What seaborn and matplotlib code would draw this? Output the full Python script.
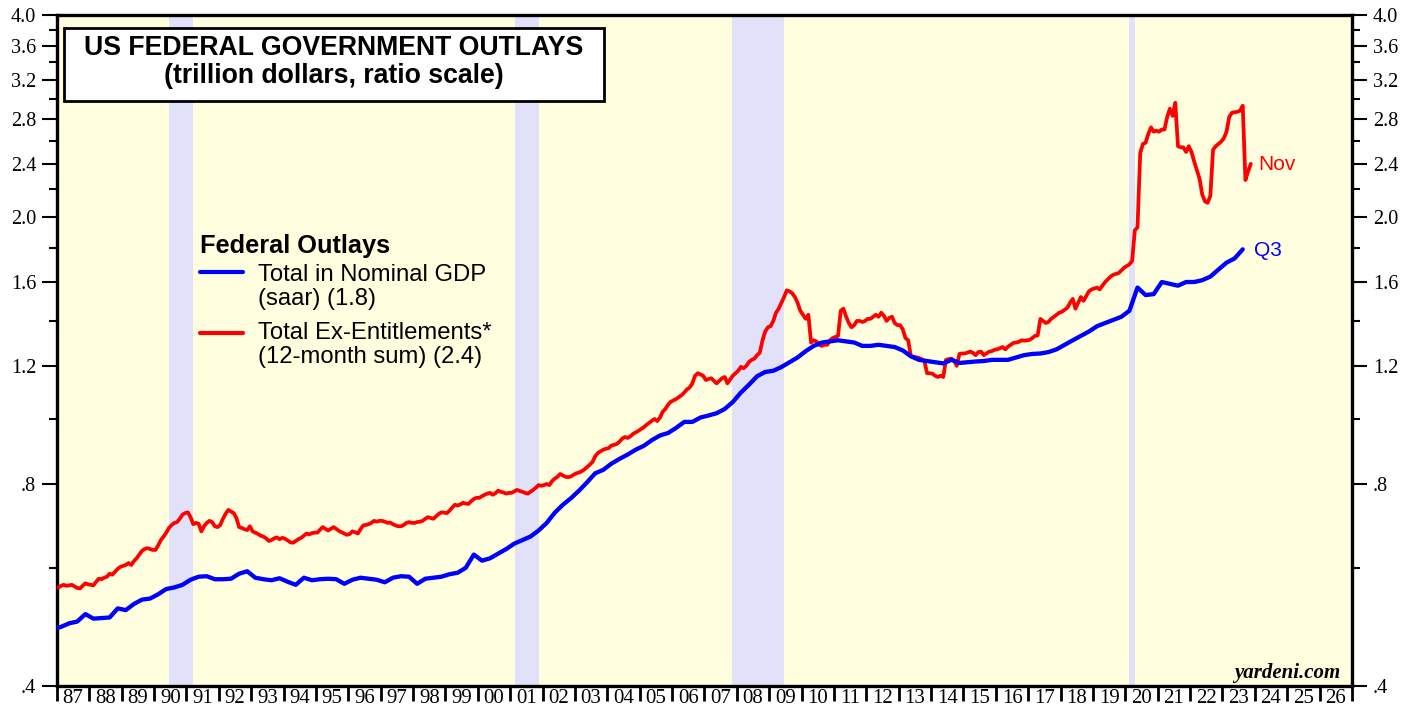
import matplotlib
matplotlib.use("Agg")
import matplotlib.pyplot as plt
import seaborn as sns
import numpy as np
import pandas as pd
from matplotlib.ticker import FixedLocator, FixedFormatter, NullFormatter
from matplotlib.patches import Rectangle
from matplotlib.lines import Line2D

# ---------------- data ----------------
# Total federal outlays in nominal GDP (saar, trillion $), quarterly 1986Q4 .. 2023Q3
blue_first_quarter = 1986.75
blue_values = [
    0.486,
    0.490, 0.496, 0.499, 0.512,   # 1987
    0.504, 0.505, 0.506, 0.522,   # 1988
    0.519, 0.530, 0.538, 0.540,   # 1989
    0.548, 0.558, 0.561, 0.566,   # 1990
    0.576, 0.582, 0.583, 0.577,   # 1991
    0.577, 0.578, 0.588, 0.593,   # 1992
    0.580, 0.577, 0.575, 0.579,   # 1993
    0.572, 0.566, 0.580, 0.575,   # 1994
    0.577, 0.578, 0.577, 0.568,   # 1995
    0.576, 0.580, 0.578, 0.576,   # 1996
    0.571, 0.580, 0.583, 0.582,   # 1997
    0.568, 0.578, 0.580, 0.582,   # 1998
    0.587, 0.590, 0.600, 0.628,   # 1999
    0.615, 0.620, 0.630, 0.640,   # 2000
    0.652, 0.660, 0.668, 0.682,   # 2001
    0.700, 0.725, 0.745, 0.762,   # 2002
    0.782, 0.805, 0.830, 0.840,   # 2003
    0.858, 0.872, 0.885, 0.900,   # 2004
    0.912, 0.930, 0.945, 0.953,   # 2005
    0.970, 0.990, 0.990, 1.005,   # 2006
    1.012, 1.020, 1.035, 1.060,   # 2007
    1.095, 1.125, 1.158, 1.175,   # 2008
    1.180, 1.195, 1.215, 1.235,   # 2009
    1.262, 1.285, 1.300, 1.305,   # 2010
    1.310, 1.305, 1.300, 1.285,   # 2011
    1.285, 1.290, 1.285, 1.280,   # 2012
    1.265, 1.240, 1.225, 1.220,   # 2013
    1.215, 1.210, 1.225, 1.212,   # 2014
    1.215, 1.218, 1.220, 1.225,   # 2015
    1.225, 1.225, 1.235, 1.245,   # 2016
    1.250, 1.252, 1.258, 1.270,   # 2017
    1.290, 1.310, 1.330, 1.350,   # 2018
    1.375, 1.390, 1.405, 1.420,   # 2019
    1.450, 1.570, 1.530, 1.535,   # 2020
    1.600, 1.590, 1.580, 1.600,   # 2021
    1.600, 1.610, 1.630, 1.670,   # 2022
    1.710, 1.735, 1.790,          # 2023
]

# Total outlays ex-entitlements (12-month sum, trillion $), monthly Jan 1987 .. Nov 2023
red_first_month = 1987.0
red_values = [
    0.561, 0.564, 0.566, 0.564, 0.565, 0.566, 0.563, 0.560, 0.559, 0.564, 0.569, 0.567,  # 1987
    0.566, 0.565, 0.572, 0.578, 0.577, 0.580, 0.582, 0.588, 0.586, 0.592, 0.598, 0.602,  # 1988
    0.604, 0.606, 0.610, 0.606, 0.614, 0.620, 0.628, 0.636, 0.640, 0.642, 0.640, 0.638,  # 1989
    0.638, 0.648, 0.660, 0.668, 0.677, 0.688, 0.695, 0.700, 0.702, 0.710, 0.720, 0.724,  # 1990
    0.726, 0.714, 0.697, 0.700, 0.698, 0.680, 0.692, 0.700, 0.705, 0.702, 0.692, 0.690,  # 1991
    0.695, 0.710, 0.722, 0.732, 0.728, 0.724, 0.712, 0.690, 0.688, 0.685, 0.683, 0.692,  # 1992
    0.680, 0.677, 0.674, 0.670, 0.668, 0.664, 0.658, 0.660, 0.664, 0.666, 0.662, 0.665,  # 1993
    0.663, 0.659, 0.655, 0.654, 0.658, 0.662, 0.665, 0.670, 0.675, 0.673, 0.676, 0.677,  # 1994
    0.677, 0.684, 0.690, 0.686, 0.682, 0.686, 0.690, 0.686, 0.681, 0.678, 0.675, 0.672,  # 1995
    0.674, 0.680, 0.678, 0.675, 0.685, 0.694, 0.695, 0.697, 0.700, 0.705, 0.703, 0.705,  # 1996
    0.705, 0.703, 0.700, 0.701, 0.697, 0.694, 0.692, 0.692, 0.695, 0.700, 0.702, 0.700,  # 1997
    0.700, 0.702, 0.703, 0.705, 0.710, 0.714, 0.712, 0.710, 0.716, 0.722, 0.726, 0.725,  # 1998
    0.724, 0.730, 0.738, 0.745, 0.743, 0.746, 0.750, 0.748, 0.747, 0.754, 0.760, 0.763,  # 1999
    0.763, 0.767, 0.771, 0.774, 0.776, 0.771, 0.775, 0.782, 0.779, 0.777, 0.774, 0.776,  # 2000
    0.776, 0.780, 0.784, 0.781, 0.779, 0.776, 0.774, 0.779, 0.784, 0.790, 0.797, 0.795,  # 2001
    0.797, 0.800, 0.797, 0.808, 0.815, 0.820, 0.828, 0.824, 0.820, 0.819, 0.821, 0.826,  # 2002
    0.830, 0.832, 0.836, 0.841, 0.848, 0.855, 0.863, 0.880, 0.890, 0.895, 0.900, 0.903,  # 2003
    0.905, 0.913, 0.915, 0.918, 0.925, 0.935, 0.940, 0.937, 0.942, 0.950, 0.955, 0.960,  # 2004
    0.966, 0.972, 0.980, 0.987, 0.994, 1.000, 0.993, 1.005, 1.025, 1.035, 1.050, 1.061,  # 2005
    1.066, 1.071, 1.078, 1.085, 1.095, 1.107, 1.114, 1.130, 1.160, 1.170, 1.165, 1.160,  # 2006
    1.143, 1.147, 1.150, 1.140, 1.130, 1.140, 1.150, 1.155, 1.130, 1.145, 1.160, 1.170,  # 2007
    1.180, 1.196, 1.190, 1.200, 1.216, 1.225, 1.230, 1.245, 1.255, 1.310, 1.350, 1.370,  # 2008
    1.375, 1.400, 1.440, 1.460, 1.490, 1.520, 1.555, 1.550, 1.540, 1.520, 1.490, 1.450,  # 2009
    1.430, 1.410, 1.430, 1.300, 1.310, 1.305, 1.290, 1.285, 1.290, 1.290, 1.310, 1.320,  # 2010
    1.325, 1.330, 1.450, 1.460, 1.420, 1.390, 1.370, 1.380, 1.400, 1.400, 1.395, 1.400,  # 2011
    1.410, 1.410, 1.420, 1.430, 1.420, 1.440, 1.425, 1.400, 1.415, 1.420, 1.390, 1.380,  # 2012
    1.380, 1.360, 1.320, 1.310, 1.240, 1.238, 1.236, 1.233, 1.228, 1.220, 1.170, 1.170,  # 2013
    1.168, 1.160, 1.155, 1.160, 1.155, 1.225, 1.228, 1.230, 1.222, 1.200, 1.250, 1.252,  # 2014
    1.252, 1.256, 1.260, 1.255, 1.245, 1.258, 1.260, 1.245, 1.252, 1.260, 1.262, 1.268,  # 2015
    1.270, 1.275, 1.280, 1.270, 1.282, 1.290, 1.298, 1.300, 1.303, 1.310, 1.308, 1.310,  # 2016
    1.312, 1.320, 1.330, 1.332, 1.410, 1.400, 1.390, 1.395, 1.410, 1.420, 1.430, 1.440,  # 2017
    1.445, 1.455, 1.465, 1.490, 1.510, 1.460, 1.490, 1.520, 1.500, 1.525, 1.550, 1.560,  # 2018
    1.565, 1.570, 1.560, 1.580, 1.600, 1.615, 1.630, 1.640, 1.645, 1.650, 1.665, 1.680,  # 2019
    1.690, 1.700, 1.720, 1.910, 1.930, 2.490, 2.570, 2.580, 2.660, 2.720, 2.680, 2.690,  # 2020
    2.680, 2.700, 2.700, 2.820, 2.900, 2.830, 2.960, 2.550, 2.540, 2.540, 2.500, 2.550,  # 2021
    2.500, 2.420, 2.350, 2.280, 2.160, 2.110, 2.100, 2.150, 2.520, 2.550, 2.570, 2.590,  # 2022
    2.620, 2.680, 2.820, 2.860, 2.865, 2.870, 2.880, 2.930, 2.270, 2.340, 2.400,         # 2023
]

recessions = [(1990.46, 1991.20), (2001.14, 2001.88), (2007.86, 2009.47), (2020.12, 2020.30)]

y_major = [0.4, 0.8, 1.2, 1.6, 2.0, 2.4, 2.8, 3.2, 3.6, 4.0]
y_major_labels = [".4", ".8", "1.2", "1.6", "2.0", "2.4", "2.8", "3.2", "3.6", "4.0"]
y_minor = [0.6, 1.0, 1.4, 1.8, 2.2, 2.6, 3.0, 3.4, 3.8]
years = list(range(1987, 2027))
year_labels = [f"{y % 100:02d}" for y in years]

title_lines = ["US FEDERAL GOVERNMENT OUTLAYS", "(trillion dollars, ratio scale)"]
legend_title = "Federal Outlays"
blue_label = ["Total in Nominal GDP", "(saar) (1.8)"]
red_label = ["Total Ex-Entitlements*", "(12-month sum) (2.4)"]

BLUE = "#0000ff"
RED = "#ff0000"
BG = "#ffffe0"
BAND = "#e1e1fa"

# ---------------- frames ----------------
blue_df = pd.DataFrame({
    "date": [blue_first_quarter + i * 0.25 + 0.125 for i in range(len(blue_values))],
    "value": blue_values,
})
red_df = pd.DataFrame({
    "date": [red_first_month + (m + 0.5) / 12 for m in range(len(red_values))],
    "value": red_values,
})

# ---------------- figure ----------------
sns.set_style("white")
plt.rcParams["font.family"] = ["Liberation Sans", "DejaVu Sans"]
plt.rcParams["text.color"] = "black"
plt.rcParams["xtick.color"] = "black"
plt.rcParams["ytick.color"] = "black"
plt.rcParams["axes.labelcolor"] = "black"

W, H = 1417, 719
fig = plt.figure(figsize=(W / 100, H / 100), dpi=100)
L, R, T, B = 57, 1352, 15, 686
ax = fig.add_axes([L / W, 1 - B / H, (R - L) / W, (B - T) / H])
ax.set_facecolor(BG)

for a, b in recessions:
    ax.axvspan(a, b, color=BAND, lw=0, zorder=0.5)

sns.lineplot(data=red_df, x="date", y="value", color=RED, lw=2.7, ax=ax,
             legend=False, zorder=3)
sns.lineplot(data=blue_df, x="date", y="value", color=BLUE, lw=3.1, ax=ax,
             legend=False, zorder=4)

ax.set_yscale("log")
ax.set_ylim(0.4, 4.0)
ax.set_xlim(1987, 2027)
ax.set_xlabel("")
ax.set_ylabel("")

serif = ["Liberation Serif", "DejaVu Serif"]
ax.yaxis.set_major_locator(FixedLocator(y_major))
ax.yaxis.set_major_formatter(FixedFormatter(y_major_labels))
ax.yaxis.set_minor_locator(FixedLocator(y_minor))
ax.yaxis.set_minor_formatter(NullFormatter())
ax.tick_params(axis="y", which="major", direction="out", length=11, width=1.5,
               left=True, right=True, labelleft=True, labelright=True, pad=4,
               labelsize=14.5, colors="black")
ax.tick_params(axis="y", which="minor", direction="out", length=6, width=1.5,
               left=True, right=True, colors="black")

ax.set_xticks([y for y in years] + [2027])
ax.set_xticklabels([""] * (len(years) + 1))
ax.set_xticks([y + 0.5 for y in years], minor=True)
ax.set_xticklabels(year_labels, minor=True)
ax.tick_params(axis="x", which="major", direction="out", length=11, width=2,
               bottom=True, colors="black")
ax.tick_params(axis="x", which="minor", length=0, pad=2, labelsize=15, colors="black")

for lab in ax.get_xticklabels(which="both") + ax.get_yticklabels(which="both"):
    lab.set_family(serif)
for lab in ax.yaxis.get_ticklabels(which="both"):
    lab.set_family(serif)
for t in ax.yaxis.get_major_ticks():
    t.label2.set_family(serif)

for s in ax.spines.values():
    s.set_visible(True)
    s.set_color("black")
    s.set_linewidth(2.4)

def fx(x):
    return x / W

def fy(y):
    return 1 - y / H

# Title box
box = Rectangle((fx(64), fy(101)), fx(604) - fx(64), fy(28) - fy(101),
                transform=fig.transFigure, facecolor="white", edgecolor="black",
                lw=2, zorder=10)
fig.patches.append(box)
fig.text(fx(334), fy(48), title_lines[0], ha="center", va="center",
         fontsize=19.2, fontweight="bold", zorder=11, color="black")
fig.text(fx(334), fy(76), title_lines[1], ha="center", va="center",
         fontsize=19.2, fontweight="bold", zorder=11, color="black")

# Legend
fig.text(fx(200), fy(246), legend_title, ha="left", va="center", fontsize=18.3,
         fontweight="bold", color="black")
fig.add_artist(Line2D([fx(200), fx(243)], [fy(272), fy(272)], color=BLUE, lw=3.0,
                      transform=fig.transFigure))
fig.add_artist(Line2D([fx(200), fx(243)], [fy(333), fy(333)], color=RED, lw=3.0,
                      transform=fig.transFigure))
for txt, yy in [(blue_label[0], 275), (blue_label[1], 299),
                (red_label[0], 333), (red_label[1], 357)]:
    fig.text(fx(258), fy(yy), txt, ha="left", va="center", fontsize=17.2, color="black")

# End labels
fig.text(fx(1258), fy(165), "Nov", ha="left", va="center", fontsize=15, color=RED)
fig.text(fx(1254), fy(251), "Q3", ha="left", va="center", fontsize=15, color=BLUE)

# Source
fig.text(fx(1340), fy(673), "yardeni.com", ha="right", va="center", fontsize=15,
         fontweight="bold", fontstyle="italic", family=serif, color="black")

fig.savefig("out.png", dpi=100)
